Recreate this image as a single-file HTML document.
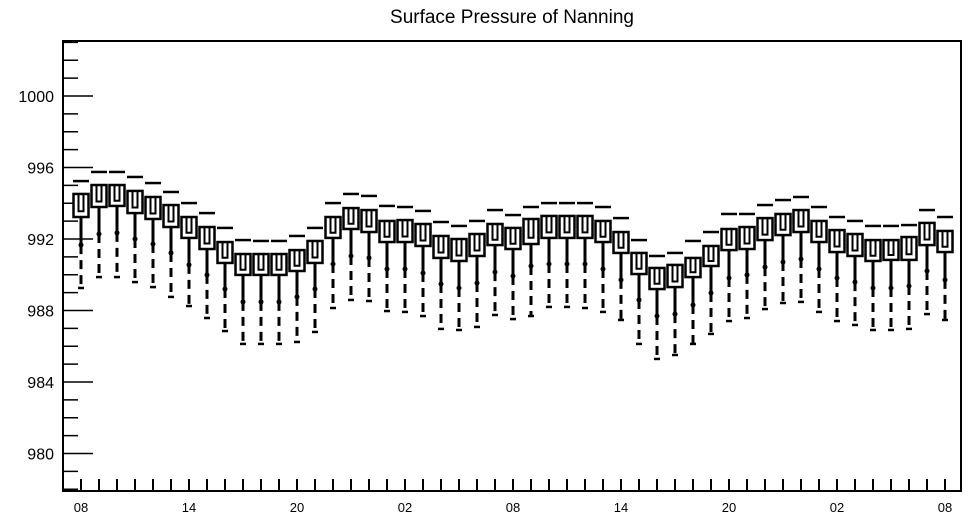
<!DOCTYPE html>
<html><head><meta charset="utf-8"><style>
body{margin:0;background:#fff;}
svg text{font-family:"Liberation Sans",Arial,sans-serif;fill:#000;}
</style></head><body>
<svg id="chart" width="968" height="520" xmlns="http://www.w3.org/2000/svg">
<text x="512" y="23" font-size="19" text-anchor="middle">Surface Pressure of Nanning</text>
<rect x="63" y="41" width="898" height="450" fill="none" stroke="#000" stroke-width="2"/>
<g id="yaxis"></g>
<g id="xaxis"></g>
<g id="boxes"></g>
</svg>
<script>
const hourLabels = ["08","14","20","02","08","14","20","02","08"];
const yTickLabels = [980,984,988,992,996,1000];
const maxV = [995.24,995.75,995.75,995.47,995.13,994.63,994.01,993.45,992.62,991.94,991.89,991.89,992.17,992.62,994.01,994.52,994.41,993.85,993.79,993.57,992.95,992.73,993.01,993.62,993.34,993.79,994.01,994.01,994.01,993.79,993.17,991.94,991.05,991.22,991.89,992.39,993.40,993.40,993.90,994.18,994.35,993.79,993.23,993.01,992.73,992.73,992.78,993.62,993.23];
const q3V = [994.52,995.02,995.02,994.69,994.35,993.90,993.23,992.67,991.83,991.16,991.16,991.16,991.38,991.89,993.23,993.73,993.62,993.01,993.06,992.84,992.17,992.00,992.28,992.84,992.62,993.12,993.29,993.29,993.29,993.01,992.39,991.22,990.38,990.55,990.94,991.61,992.56,992.67,993.17,993.40,993.62,993.01,992.50,992.28,991.94,991.94,992.11,992.90,992.45];
const q1V = [993.23,993.79,993.85,993.45,993.12,992.67,992.06,991.44,990.66,989.99,989.99,989.99,990.21,990.66,992.06,992.56,992.39,991.83,991.83,991.61,990.94,990.77,991.05,991.66,991.44,991.72,992.06,992.06,992.06,991.83,991.22,990.04,989.20,989.31,989.87,990.49,991.38,991.44,991.94,992.22,992.39,991.83,991.27,991.05,990.77,990.83,990.83,991.66,991.27];
const lowV = [991.66,992.28,992.34,992.00,991.72,991.22,990.55,989.99,989.20,988.48,988.48,988.48,988.76,989.20,990.60,991.05,990.94,990.32,990.32,990.10,989.48,989.26,989.54,990.15,989.93,990.49,990.60,990.60,990.60,990.32,989.71,988.59,987.69,987.80,988.31,988.98,989.82,989.99,990.43,990.71,990.88,990.32,989.82,989.59,989.26,989.26,989.37,990.21,989.71];
const minV = [989.26,989.87,989.87,989.59,989.31,988.76,988.25,987.58,986.85,986.13,986.13,986.13,986.24,986.80,988.14,988.59,988.53,987.97,987.92,987.69,986.97,986.91,987.08,987.75,987.52,987.69,988.20,988.20,988.14,987.92,987.47,986.13,985.29,985.51,986.13,986.69,987.41,987.58,988.08,988.42,988.48,987.92,987.41,987.19,986.91,986.91,986.97,987.80,987.47];

const NS="http://www.w3.org/2000/svg";
const yS = v => 96 + (1000 - v) * 17.875;
const xS = i => 81 + i * 18;
function mk(tag, attrs, parent){const e=document.createElementNS(NS,tag);for(const k in attrs)e.setAttribute(k,attrs[k]);parent.appendChild(e);return e;}
const ya=document.getElementById('yaxis'), xa=document.getElementById('xaxis'), bx=document.getElementById('boxes');
for(let v=978; v<=1003; v++){
  const major = yTickLabels.includes(v);
  const t=mk('line',{x1:63,x2:63+(major?30:15),y1:yS(v),y2:yS(v),stroke:'#000','stroke-width':1.5},ya);
  
  
}
yTickLabels.forEach(v=>{
  const t=mk('text',{x:54,y:yS(v)+6,'font-size':16,'text-anchor':'end'},ya);
  t.textContent=v;
  
  
});
for(let i=0;i<maxV.length;i++){
  const t=mk('line',{x1:xS(i),x2:xS(i),y1:491,y2:479,stroke:'#000','stroke-width':2},xa);
  
  
}
hourLabels.forEach((l,k)=>{
  const t=mk('text',{x:xS(k*6),y:512,'font-size':13,'text-anchor':'middle'},xa);
  t.textContent=l;
  
  
});
for(let i=0;i<maxV.length;i++){
  const g=mk('g',{},bx);
  
  
  const x=xS(i), yt=yS(q3V[i]), yb=yS(q1V[i]), yl=yS(lowV[i]), ym=yS(minV[i]), yx=yS(maxV[i]);
  mk('line',{x1:x-8,x2:x+8,y1:yx,y2:yx,stroke:'#000','stroke-width':2.5},g);
  mk('line',{x1:x,x2:x,y1:yb,y2:yl,stroke:'#000','stroke-width':3},g);
  mk('line',{x1:x,x2:x,y1:yl,y2:ym,stroke:'#000','stroke-width':3,'stroke-dasharray':'9,6'},g);
  mk('circle',{cx:x,cy:yl,r:2.5,fill:'#000'},g);
  mk('line',{x1:x-3,x2:x+3,y1:ym,y2:ym,stroke:'#000','stroke-width':2.5},g);
  mk('rect',{x:x-7.5,y:yt,width:15,height:yb-yt,fill:'#fff',stroke:'#000','stroke-width':2.5},g);
  const uy=yt+(yb-yt)*0.75;
  mk('path',{d:`M${x-2.5},${yt} L${x-2.5},${uy} L${x+2.5},${uy} L${x+2.5},${yt}`,fill:'none',stroke:'#000','stroke-width':2},g);
}
</script>
</body></html>
